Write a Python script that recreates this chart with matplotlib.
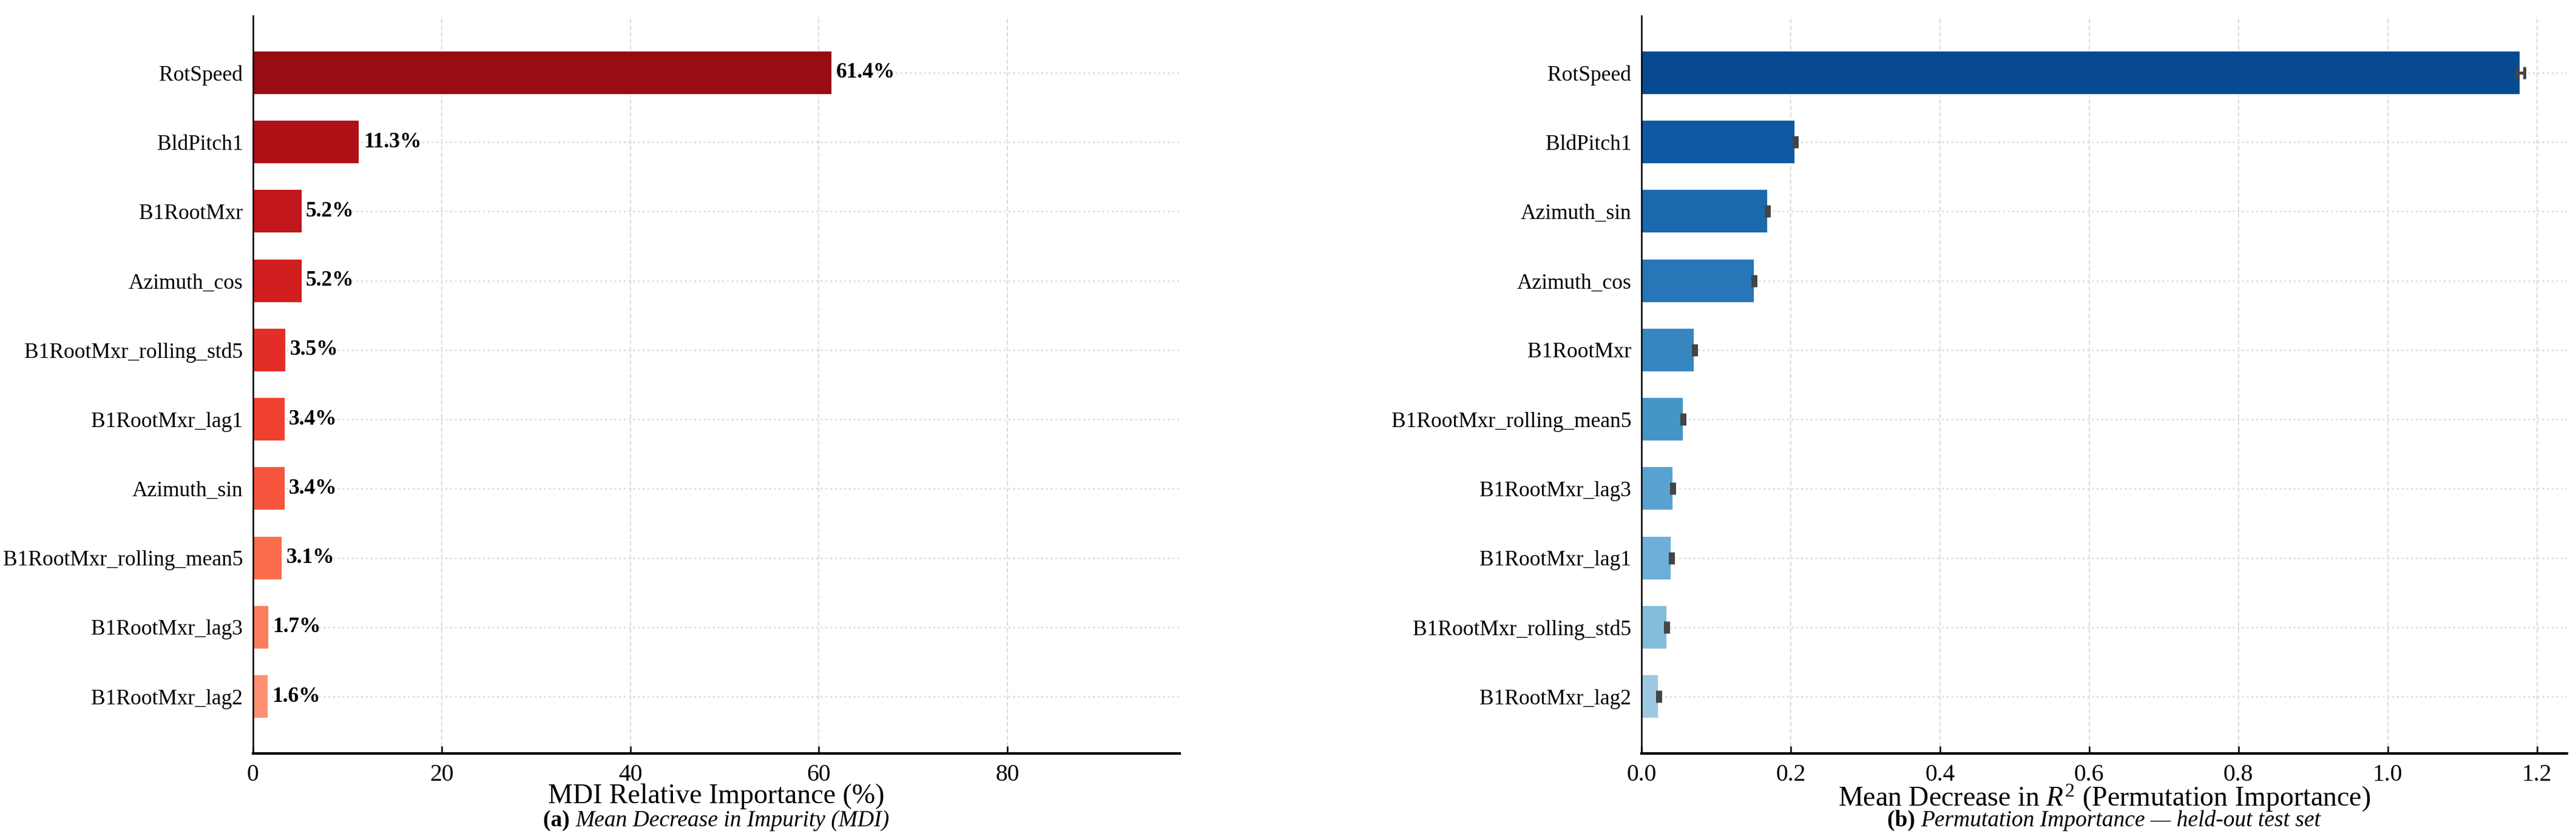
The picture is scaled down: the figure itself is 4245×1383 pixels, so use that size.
import numpy as np
import matplotlib
matplotlib.use("Agg")
import matplotlib.pyplot as plt

plt.rcParams["font.family"] = ["Liberation Serif", "DejaVu Serif"]
plt.rcParams["mathtext.fontset"] = "custom"
plt.rcParams["mathtext.rm"] = "Liberation Serif"
plt.rcParams["mathtext.it"] = "Liberation Serif:italic"
plt.rcParams["mathtext.bf"] = "Liberation Serif:bold"

# (a) MDI importance, percent
mdi_features = ["RotSpeed", "BldPitch1", "B1RootMxr", "Azimuth_cos",
                "B1RootMxr_rolling_std5", "B1RootMxr_lag1", "Azimuth_sin",
                "B1RootMxr_rolling_mean5", "B1RootMxr_lag3", "B1RootMxr_lag2"]
mdi_values = [61.4, 11.3, 5.2, 5.2, 3.5, 3.4, 3.4, 3.1, 1.7, 1.6]

# (b) permutation importance, mean decrease in R^2
perm_features = ["RotSpeed", "BldPitch1", "Azimuth_sin", "Azimuth_cos",
                 "B1RootMxr", "B1RootMxr_rolling_mean5", "B1RootMxr_lag3",
                 "B1RootMxr_lag1", "B1RootMxr_rolling_std5", "B1RootMxr_lag2"]
perm_values = [1.178, 0.206, 0.169, 0.151, 0.071, 0.056, 0.042, 0.040, 0.034, 0.023]
perm_std = [0.005, 0.002, 0.002, 0.002, 0.002, 0.002, 0.002, 0.002, 0.002, 0.002]

fig = plt.figure(figsize=(14.15, 4.61), dpi=300)
ax1 = fig.add_axes([0.0982, 0.102, 0.3597, 0.879])
ax2 = fig.add_axes([0.6372, 0.102, 0.3592, 0.879])


def style_axis(ax, n):
    ax.set_ylim(n - 1 + 0.82, -0.82)
    for s in ["top", "right"]:
        ax.spines[s].set_visible(False)
    ax.spines["left"].set_linewidth(0.6)
    ax.spines["bottom"].set_linewidth(1.0)
    ax.tick_params(axis="x", direction="in", length=3, width=0.6, labelsize=9.5, pad=4)
    ax.tick_params(axis="y", length=0, labelsize=8.5, pad=4)
    ax.grid(axis="x", linestyle="--", color="#dedede", linewidth=0.5)
    ax.grid(axis="y", linestyle=":", color="#dedede", linewidth=0.7)
    ax.set_axisbelow(True)


def subtitle(ax, tag, rest, y=-0.0913):
    # bold tag + italic text, centred together under the axes
    renderer = fig.canvas.get_renderer()
    t1 = ax.text(0.5, y, tag + " ", transform=ax.transAxes, ha="left", va="center",
                 fontsize=9, fontweight="bold")
    t2 = ax.text(0.5, y, rest, transform=ax.transAxes, ha="left", va="center",
                 fontsize=9, style="italic")
    w1 = t1.get_window_extent(renderer).width
    w2 = t2.get_window_extent(renderer).width
    ax_w = ax.get_window_extent(renderer).width
    x0 = 0.5 - (w1 + w2) / 2 / ax_w
    t1.set_x(x0)
    t2.set_x(x0 + w1 / ax_w)


# left panel
n = len(mdi_features)
y = np.arange(n)
red_cols = plt.cm.Reds(np.linspace(0.9, 0.38, n))
bars = ax1.barh(y, mdi_values, height=0.63, color=red_cols, edgecolor="white", linewidth=0.4)
for b, v in zip(bars, mdi_values):
    ax1.annotate(f"{v:.1f}%", (b.get_width(), b.get_y() + b.get_height() / 2),
                 xytext=(1.5, 0), textcoords="offset points", va="center", ha="left",
                 fontsize=8.5, fontweight="bold")
ax1.set_yticks(y)
ax1.set_yticklabels(mdi_features)
ax1.set_xlim(0, max(mdi_values) * 1.6)
style_axis(ax1, n)
ax1.set_xlabel("MDI Relative Importance (%)", fontsize=11, va="center")
ax1.xaxis.set_label_coords(0.5, -0.058)

# right panel
n = len(perm_features)
y = np.arange(n)
blue_cols = plt.cm.Blues(np.linspace(0.9, 0.38, n))
ax2.barh(y, perm_values, height=0.63, color=blue_cols, edgecolor="white", linewidth=0.4,
         xerr=perm_std, error_kw=dict(ecolor="#444444", elinewidth=1.2, capsize=2.5, capthick=1.2))
ax2.set_yticks(y)
ax2.set_yticklabels(perm_features)
ax2.set_xlim(0, 1.24)
style_axis(ax2, n)
ax2.set_xlabel(r"Mean Decrease in $R^2$ (Permutation Importance)", fontsize=11, va="center")
ax2.xaxis.set_label_coords(0.5, -0.061)

subtitle(ax1, "(a)", "Mean Decrease in Impurity (MDI)")
subtitle(ax2, "(b)", "Permutation Importance — held-out test set")

fig.savefig("out.png", dpi=300)
